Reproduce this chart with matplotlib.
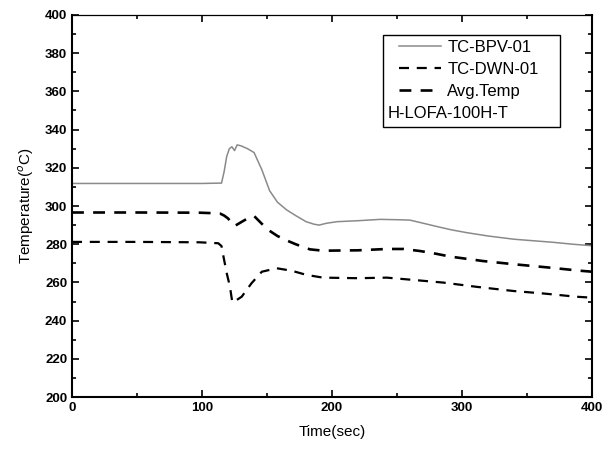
import matplotlib
matplotlib.use("Agg")
import matplotlib.pyplot as plt
from matplotlib.patches import Rectangle

plt.rcParams['font.family'] = ['Liberation Sans', 'DejaVu Sans']

# TC-BPV-01 (grey solid)
t_bpv = [0, 50, 100, 115, 117, 119, 121, 123, 125, 127, 130, 135, 140, 146, 152, 158, 165, 172, 180, 186, 190,
         196, 204, 220, 237, 252, 260, 270, 281, 292, 304, 320, 340, 355, 370, 385, 400]
T_bpv = [311.8, 311.8, 311.8, 312, 318, 326, 330, 331, 329, 332, 331.5, 330, 328, 319, 308, 302, 298, 295, 291.8, 290.5, 290,
         291, 291.8, 292.3, 293, 292.8, 292.6, 291, 289.2, 287.5, 286, 284.3, 282.6, 281.8, 281, 280, 279.2]

# Avg.Temp (upper thick dashed)
t_avg = [0, 50, 98, 110, 114, 117, 120, 123, 125, 130, 135, 140, 147, 152, 158, 165, 172, 178, 183, 193,
         220, 242, 255, 268, 280, 291, 316, 340, 365, 391, 400]
T_avg = [296.6, 296.6, 296.5, 296.2, 296, 295, 293.5, 291, 289.5, 291.5, 293.5, 294.8, 290, 287, 284.3, 282, 280, 278.5, 277.3, 276.6,
         276.8, 277.5, 277.5, 276.4, 275, 273.5, 271.2, 269.5, 267.9, 266.1, 265.6]

# TC-DWN-01 (lower dashed)
t_dwn = [0, 50, 98, 112.5, 115, 116.5, 119, 121.5, 123.3, 126, 130.5, 138, 146, 157.5, 169, 180.5, 193,
         220, 242, 262.5, 285.6, 311, 339.5, 362.5, 388, 400]
T_dwn = [281.2, 281.2, 281, 280.5, 279, 273.5, 264.8, 257.7, 249.5, 250.5, 252.5, 259.5, 265.6, 267.4, 266.1, 263.9, 262.5,
         262.2, 262.5, 261.3, 259.9, 257.7, 255.5, 254.2, 252.5, 252]

fig = plt.figure(figsize=(6.13, 4.49), dpi=100)
ax = fig.add_axes([0.1175, 0.1158, 0.8483, 0.8508])

l1, = ax.plot(t_bpv, T_bpv, color='#8a8a8a', lw=1.1, label='TC-BPV-01')
l2, = ax.plot(t_dwn, T_dwn, color='black', lw=1.6, dashes=(4.5, 3.5), label='TC-DWN-01')
l3, = ax.plot(t_avg, T_avg, color='black', lw=1.9, dashes=(4.5, 3.5), label='Avg.Temp')

ax.set_xlim(0, 400)
ax.set_ylim(200, 400)
ax.set_xticks(range(0, 401, 100))
ax.set_xticks(range(0, 401, 50), minor=True)
ax.set_yticks(range(200, 401, 20))
ax.set_yticks(range(200, 401, 10), minor=True)
ax.tick_params(which='both', direction='in', top=True, right=True, width=1.2, labelsize=9.5)
ax.tick_params(which='major', length=5)
ax.tick_params(which='minor', length=3)
for lab in ax.get_xticklabels() + ax.get_yticklabels():
    lab.set_fontweight('bold')
for s in ['left', 'bottom', 'right']:
    ax.spines[s].set_linewidth(1.5)
ax.spines['top'].set_linewidth(0.9)

ax.set_xlabel('Time(sec)', fontsize=11, labelpad=8)
ax.set_ylabel('Temperature($^o$C)', fontsize=11, labelpad=6)

# legend box
ax.add_patch(Rectangle((0.598, 0.707), 0.340, 0.241, transform=ax.transAxes,
                       fill=False, edgecolor='black', lw=1.0, zorder=5))
ax.legend(handles=[l1, l2, l3], loc='upper left', bbox_to_anchor=(0.616, 0.953),
          frameon=False, fontsize=12, handlelength=2.5, handletextpad=0.4, labelspacing=0.42,
          borderaxespad=0)
ax.text(0.607, 0.742, 'H-LOFA-100H-T', transform=ax.transAxes, fontsize=12, va='center', ha='left')

fig.savefig('out.png', dpi=100)
